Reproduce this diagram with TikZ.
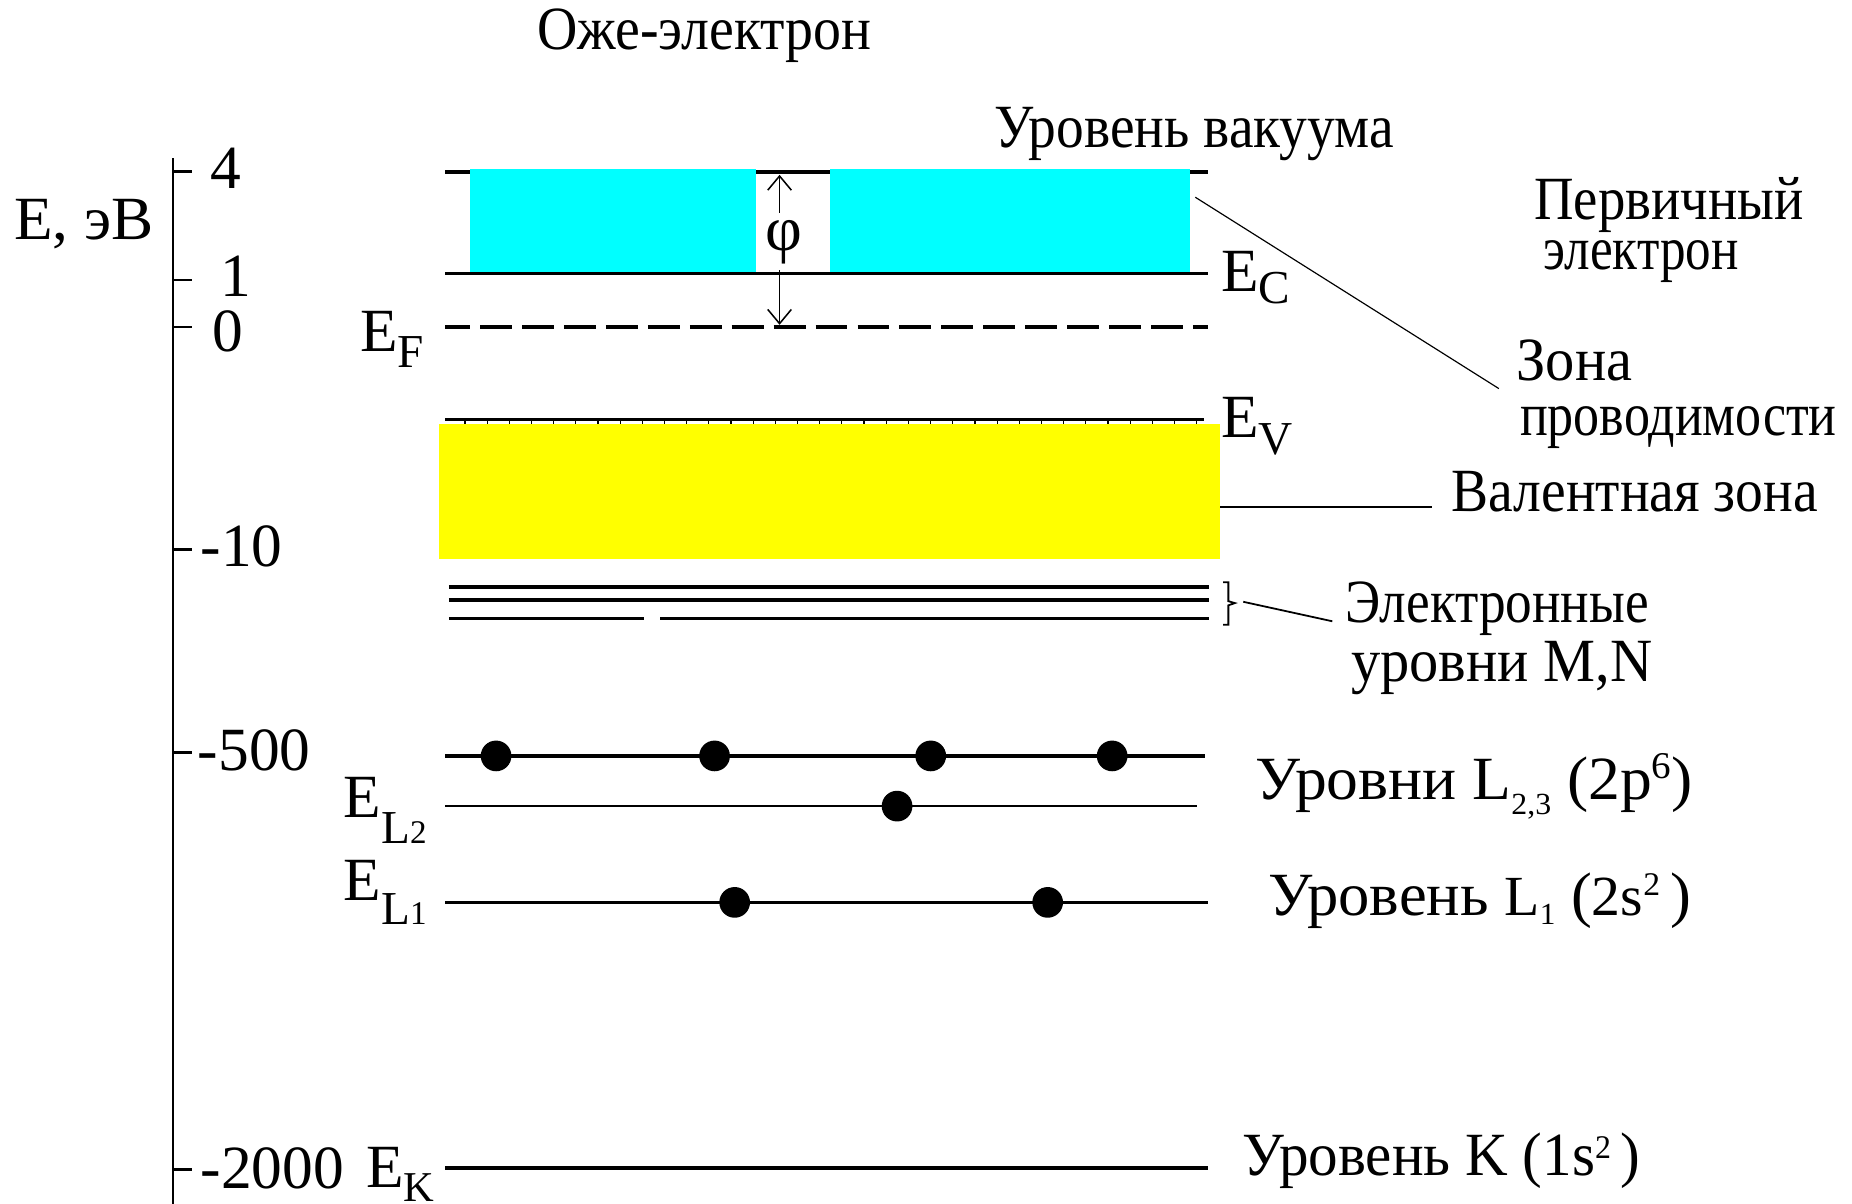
\documentclass[tikz,border=0pt]{standalone}
\usepackage{fontspec}
\setmainfont{Liberation Serif}
\usepackage{graphicx}
\usetikzlibrary{arrows.meta}
\definecolor{cyanc}{RGB}{0,255,255}
\definecolor{yelc}{RGB}{255,255,0}
\newcommand\fitw[2]{\resizebox{#1pt}{\height}{#2}}
\newcommand\fs[1]{\fontsize{#1}{#1}\selectfont}
\newcommand\shiftt[3]{\raisebox{#1pt}{\fs{#2}#3}}
\begin{document}
\begin{tikzpicture}[x=1pt,y=-1pt,
  lbl/.style={inner sep=0pt,outer sep=0pt,anchor=base west,font=\fs{52}},
  lvl/.style={line width=2.6pt},
  fine/.style={line width=1.3pt},
  axisln/.style={line width=2.2pt},
  tip/.style={-{Straight Barb[length=12pt,width=20pt]}},
  dot/.style={circle,fill=black,inner sep=0pt,minimum size=26pt}]
\useasboundingbox (0,0) rectangle (1568,1019);

% ---- energy axis
\coordinate (axT) at (146.5,134);
\coordinate (axB) at (146.5,1019);
\draw[axisln] (axT) -- (axB);
\foreach \y/\n in {145/t4,237/t1,277/t0,465/t10,637/t500,990/t2000}{
  \coordinate (\n) at (146.5,\y);
  \draw[axisln] (\n) -- ++(16,0);
}
\node[lbl] (n4) at (178,160) {4};
\node[lbl] (n1) at (187,251) {1};
\node[lbl] (n0) at (180,298) {0};
\node[lbl] (n10) at (170,480) {-10};
\node[lbl] (n500) at (167.5,652) {-500};
\node[lbl] (n2000) at (170,1006) {-2000};
\node[lbl] (eunit) at (12,203) {\fitw{118}{E, эВ}};

% ---- vacuum level / conduction band
\coordinate (vacL) at (377,145.6);
\coordinate (vacR) at (1023,145.6);
\draw[lvl] (vacL) -- (vacR);
\fill[cyanc] (397.5,143) rectangle (640,231.5);
\fill[cyanc] (703,143) rectangle (1007.6,231.5);
\coordinate (ecL) at (377,231.2);
\coordinate (ecR) at (1023,231.2);
\draw[lvl] (ecL) -- (ecR);

% work function
\coordinate (phiUpA) at (660,180);
\coordinate (phiUpB) at (660,148);
\coordinate (phiDnA) at (660,229);
\coordinate (phiDnB) at (660,275);
\draw[fine,tip] (phiUpA) -- (phiUpB);
\draw[fine,tip] (phiDnA) -- (phiDnB);
\node[inner sep=0pt,font=\fs{54}] (phi) at (664,205) {φ};

% Fermi level
\coordinate (efL) at (377,277);
\coordinate (efR) at (1023,277);
\draw[line width=3pt,dash pattern=on 27pt off 8.5pt,dash phase=6pt] (efL) -- (efR);

% valence band top
\coordinate (evL) at (377,355);
\coordinate (evR) at (1019,355);
\draw[lvl] (evL) -- (evR);
\foreach \i in {0,...,33}{
  \draw[line width=1pt] ({393.7+\i*18.77},355) -- ++(0,4.5);
}
\fill[yelc] (372,359) rectangle (1033,473);

% M,N levels
\draw[lvl] (380,497) -- (1024,497);
\draw[lvl] (380,508) -- (1024,508);
\draw[lvl] (380,524) -- (545,524);
\draw[lvl] (559,524) -- (1024,524);
\draw[line width=1.5pt] (1035.6,493) -- (1040,493) -- (1040,509) -- (1045.5,510.6)
   -- (1040,512.5) -- (1040,529) -- (1035.6,529);

% L, K levels
\draw[line width=3.2pt] (377,640) -- (1020,640);
\draw[line width=2.2pt] (377,682.5) -- (1013.5,682.5);
\draw[line width=2.8pt] (377,764) -- (1023,764);
\draw[line width=2.8pt] (377,989) -- (1023,989);
\node[dot] (d1) at (420,640) {};
\node[dot] (d2) at (605,640) {};
\node[dot] (d3) at (788,640) {};
\node[dot] (d4) at (941.6,640) {};
\node[dot] (d5) at (759.5,682.5) {};
\node[dot] (d6) at (622,764) {};
\node[dot] (d7) at (887,764) {};

% ---- energy labels
\node[lbl] (EF) at (305,298) {E\shiftt{-13}{40}{F}};
\node[lbl] (EC) at (1034,247) {E\shiftt{-10}{40}{C}};
\node[lbl] (EV) at (1034,370) {E\shiftt{-15}{40}{V}};
\node[lbl] (EL2) at (291,692) {E\shiftt{-22}{40}{L\fs{28}2}};
\node[lbl] (EL1) at (291,762) {E\shiftt{-21}{40}{L\fs{28}1}};
\node[lbl] (EK) at (310,1005) {E\shiftt{-12}{36}{K}};

% ---- text labels
\node[lbl] (auger) at (455,42) {\fitw{283}{Оже-электрон}};
\node[lbl] (vac) at (842,124.5) {\fitw{338}{Уровень вакуума}};
\node[lbl] (prim1) at (1299,186) {\fitw{228}{Первичный}};
\node[lbl] (prim2) at (1307,228) {\fitw{165}{электрон}};
\node[lbl] (cz1) at (1284,322) {\fitw{98}{Зона}};
\node[lbl] (cz2) at (1287,369) {\fitw{268}{проводимости}};
\node[lbl] (val) at (1229,433) {\fitw{310}{Валентная зона}};
\node[lbl] (mn1) at (1139,527) {\fitw{257}{Электронные}};
\node[lbl] (mn2) at (1144,577) {\fitw{255}{уровни M,N}};
\node[lbl] (l23) at (1063,677) {\fitw{370}{Уровни L\shiftt{-13}{26}{2,3} (2p\shiftt{18}{32}{6})}};
\node[lbl] (l1) at (1074,775) {\fitw{358}{Уровень {\fs{48}L}\shiftt{-8}{26}{1} ({\fs{48}2s}\shiftt{17}{28}{2}\,)}};
\node[lbl] (lk) at (1052,995) {\fitw{337}{Уровень K (1s\shiftt{14}{28}{2}\,)}};

% ---- leaders
\coordinate (czA) at (1012,167);
\coordinate (czB) at (1269,329);
\draw[line width=1pt] (czA) -- (czB);
\coordinate (valA) at (1033,429);
\coordinate (valB) at (1212,429);
\draw[line width=2pt] (valA) -- (valB);
\coordinate (mnA) at (1052.6,509.5);
\coordinate (mnB) at (1128,526);
\draw[line width=1.5pt] (mnA) -- (mnB);
\end{tikzpicture}
\end{document}
